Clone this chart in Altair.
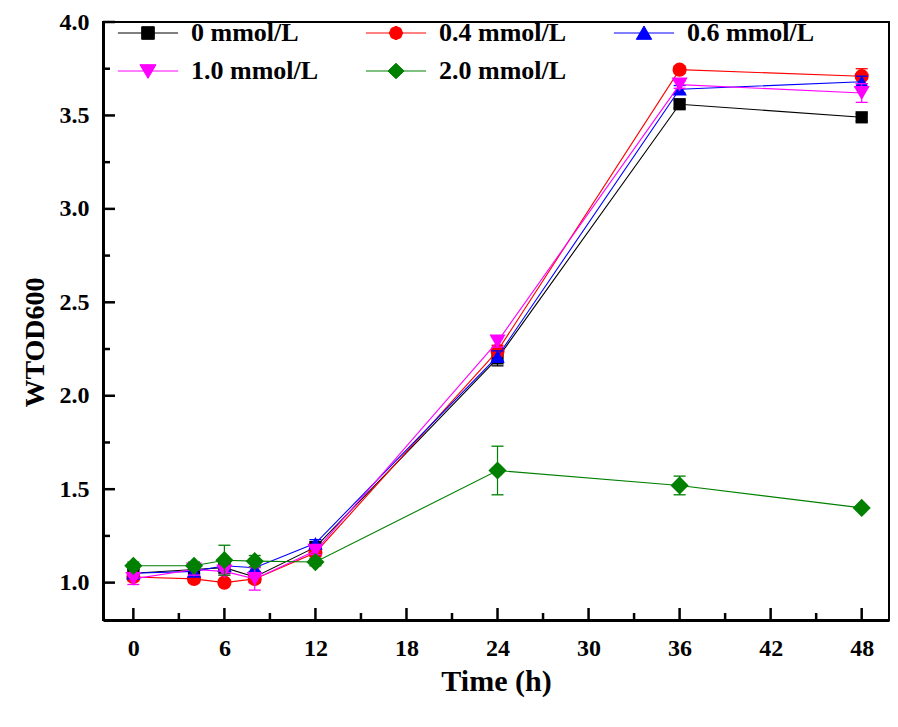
import altair as alt
import pandas as pd

# ---- data ----
times = [0, 4, 6, 8, 12, 24, 36, 48]
series = ["0 mmol/L", "0.4 mmol/L", "0.6 mmol/L", "1.0 mmol/L", "2.0 mmol/L"]

v_0 = [1.05, 1.07, 1.08, 1.03, 1.19, 2.20, 3.56, 3.49]
v_04 = [1.03, 1.02, 1.00, 1.02, 1.16, 2.24, 3.745, 3.71]
v_06 = [1.05, 1.06, 1.09, 1.08, 1.21, 2.21, 3.64, 3.68]
v_10 = [1.02, 1.07, 1.06, 1.02, 1.17, 2.29, 3.665, 3.62]
v_20 = [1.09, 1.09, 1.12, 1.115, 1.11, 1.60, 1.52, 1.40]

e_0 = [0.02, 0.02, 0.02, 0.02, 0.02, 0.04, 0.02, 0.02]
e_04 = [0.02, 0.02, 0.01, 0.02, 0.02, 0.03, 0.02, 0.04]
e_06 = [0.02, 0.02, 0.02, 0.03, 0.02, 0.03, 0.02, 0.03]
e_10 = [0.03, 0.03, 0.02, 0.06, 0.02, 0.03, 0.02, 0.05]
e_20 = [0.02, 0.02, 0.08, 0.03, 0.02, 0.13, 0.05, 0.01]

x_major = [0, 6, 12, 18, 24, 30, 36, 42, 48]
x_minor = [3, 9, 15, 21, 27, 33, 39, 45]
y_major = [1.0, 1.5, 2.0, 2.5, 3.0, 3.5, 4.0]
y_minor = [1.25, 1.75, 2.25, 2.75, 3.25, 3.75]

# ---- styling ----
colors = ["#000000", "#FF0000", "#0000FF", "#FF00FF", "#008000"]
shapes = ["square", "circle", "triangle-up", "triangle-down", "diamond"]
sizes = [150, 200, 210, 260, 330]
legend_paths = [
    "M-4.3,0H4.3M-0.9,-0.9H0.9V0.9H-0.9Z",
    "M-4.3,0H4.3M-0.95,0L-0.67,-0.67L0,-0.95L0.67,-0.67L0.95,0L0.67,0.67L0,0.95L-0.67,0.67Z",
    "M-4.3,0H4.3M0,-1L1.1,0.9L-1.1,0.9Z",
    "M-4.3,0H4.3M-1.15,-0.9L1.15,-0.9L0,1.05Z",
    "M-4.3,0H4.3M0,-1.1L1.15,0L0,1.1L-1.15,0Z",
]
# legend fills its 3 columns top-to-bottom; this order gives rows "0 / 0.4 / 0.6" and "1.0 / 2.0"
leg_order = [0, 3, 1, 4, 2]
leg_domain = [series[k] for k in leg_order]
leg_colors = [colors[k] for k in leg_order]
leg_paths = [legend_paths[k] for k in leg_order]

FONT = "Liberation Serif"
W, H = 786, 598
X_DOM = [-2, 49.8]
Y_DOM = [0.8, 4.0]

rows = []
for s, vals, errs in zip(series, [v_0, v_04, v_06, v_10, v_20], [e_0, e_04, e_06, e_10, e_20]):
    for t, v, e in zip(times, vals, errs):
        rows.append({"series": s, "time": t, "value": v, "lo": v - e, "hi": v + e})
df = pd.DataFrame(rows)

xs = alt.Scale(domain=X_DOM, nice=False, zero=False)
ys = alt.Scale(domain=Y_DOM, nice=False, zero=False)

xaxis = alt.Axis(values=x_major, title="Time (h)", titleFontSize=30, labelFontSize=24,
                 labelPadding=16, titlePadding=6)
yaxis = alt.Axis(values=y_major, format=".1f", title="WTOD600", titleFontSize=28, labelFontSize=24,
                 labelPadding=14, titlePadding=10, titleY=320)

base = alt.Chart(df)
layers = []

for i, s in enumerate(series):
    sub = base.transform_filter(alt.datum.series == s)
    enc_x = alt.X("time:Q", scale=xs, axis=xaxis) if i == 0 else alt.X("time:Q")
    enc_y = alt.Y("value:Q", scale=ys, axis=yaxis) if i == 0 else alt.Y("value:Q")
    layers.append(sub.mark_line(strokeWidth=1.1, color=colors[i]).encode(x=enc_x, y=enc_y))
    layers.append(
        sub.mark_rule(strokeWidth=1.2, color=colors[i]).encode(
            x=alt.X("time:Q"), y=alt.Y("lo:Q"), y2="hi:Q"
        )
    )
    for f in ["lo", "hi"]:
        layers.append(
            sub.mark_tick(orient="horizontal", size=12, thickness=1.3, color=colors[i], opacity=1).encode(
                x=alt.X("time:Q"), y=alt.Y(f + ":Q")
            )
        )
    layers.append(
        sub.mark_point(filled=True, shape=shapes[i], size=sizes[i], opacity=1,
                       color=colors[i], strokeWidth=0).encode(
            x=alt.X("time:Q"), y=alt.Y("value:Q")
        )
    )

# legend (built from explicit scale domains; this layer draws no marks of its own)
leg = alt.Legend(
    title=None, orient="none", legendX=32, legendY=-2, columns=3, padding=0,
    symbolSize=196, symbolStrokeWidth=1, labelOffset=30,
    labelFont=FONT, labelFontSize=26, labelFontWeight="bold", labelColor="black",
    columnPadding=44, rowPadding=12,
)
layers.append(
    base.transform_filter(alt.datum.time < -100).mark_point(filled=True, size=196, opacity=1, strokeWidth=1).encode(
        x=alt.X("time:Q"),
        y=alt.Y("value:Q"),
        fill=alt.Fill("series:N", scale=alt.Scale(domain=leg_domain, range=leg_colors), legend=leg),
        stroke=alt.Stroke("series:N", scale=alt.Scale(domain=leg_domain, range=leg_colors), legend=leg),
        shape=alt.Shape("series:N", scale=alt.Scale(domain=leg_domain, range=leg_paths), legend=leg),
    )
)

# inward ticks
layers.append(alt.Chart(pd.DataFrame({"xt": x_major})).mark_rule(strokeWidth=2.5, color="black").encode(
    x=alt.X("xt:Q"), y=alt.value(H), y2=alt.value(H - 12)))
layers.append(alt.Chart(pd.DataFrame({"xm": x_minor})).mark_rule(strokeWidth=2.5, color="black").encode(
    x=alt.X("xm:Q"), y=alt.value(H), y2=alt.value(H - 7)))
layers.append(alt.Chart(pd.DataFrame({"yt": y_major})).mark_rule(strokeWidth=2.5, color="black").encode(
    y=alt.Y("yt:Q"), x=alt.value(0), x2=alt.value(12)))
layers.append(alt.Chart(pd.DataFrame({"ym": y_minor})).mark_rule(strokeWidth=2.5, color="black").encode(
    y=alt.Y("ym:Q"), x=alt.value(0), x2=alt.value(7)))

chart = alt.layer(*layers).properties(
    width=W, height=H,
    autosize=alt.AutoSizeParams(type="none"),
    padding={"left": 95, "top": 14, "right": 1, "bottom": 98},
).configure_view(
    stroke="black", strokeWidth=2
).configure_axis(
    labelFont=FONT, labelFontWeight="bold", labelColor="black",
    titleFont=FONT, titleFontWeight="bold", titleColor="black",
    domainColor="black", domainWidth=3, grid=False, ticks=False, tickSize=0,
)

chart.save("out.html", embed_options={"renderer": "svg", "actions": False})
